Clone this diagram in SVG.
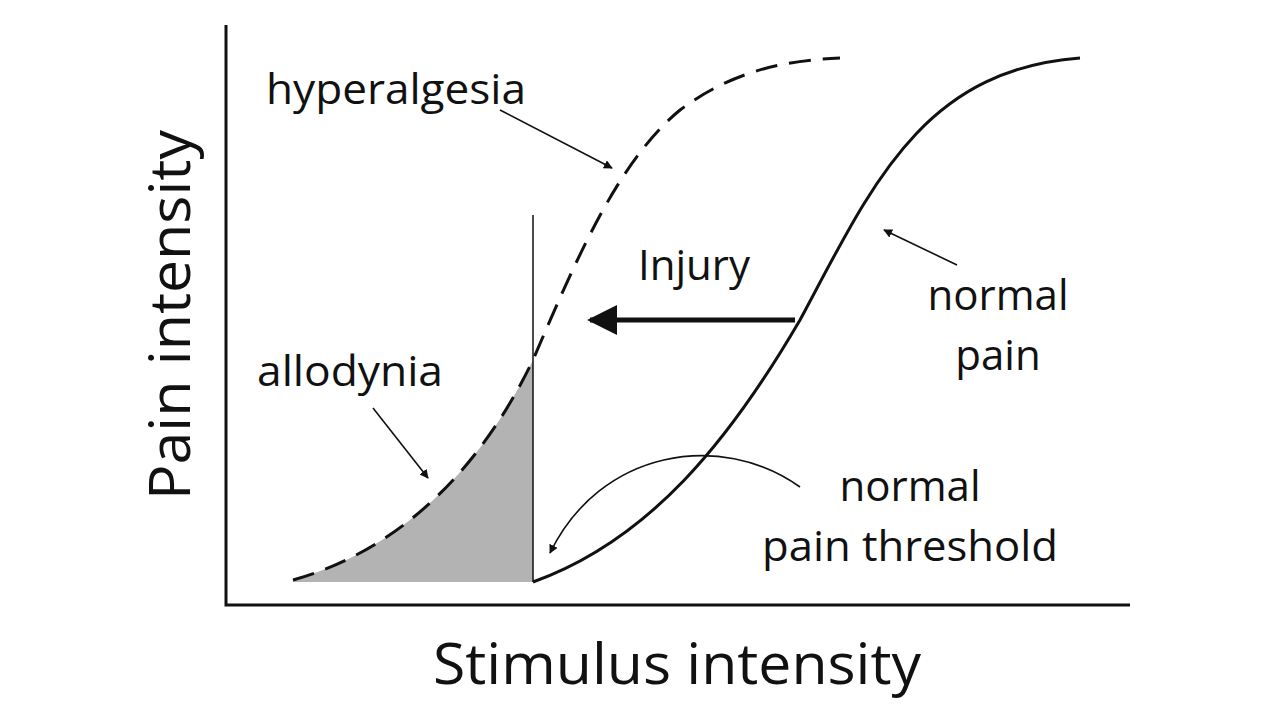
<svg xmlns="http://www.w3.org/2000/svg" width="1280" height="720" viewBox="0 0 1280 720">
<style>
text{font-family:"Open Sans","Liberation Sans",sans-serif;fill:#111}
.l{font-size:42px}
.big{font-size:57px}
.thin{fill:none;stroke:#111;stroke-width:1.6}
</style>
<defs>
<marker id="ah" viewBox="0 0 10 10" refX="9" refY="5" markerWidth="9" markerHeight="9" markerUnits="userSpaceOnUse" orient="auto"><path d="M0,0 L10,5 L0,10 z" fill="#111"/></marker>
<marker id="ahb" viewBox="0 0 10 10" refX="9" refY="5" markerWidth="34" markerHeight="30" markerUnits="userSpaceOnUse" orient="auto"><path d="M0,0 L10,5 L0,10 z" fill="#111"/></marker>
</defs>
<rect width="1280" height="720" fill="#fff"/>
<g id="axes" fill="none" stroke="#111" stroke-width="3">
<path d="M226,25 V605 H1130"/>
</g>
<g id="fill"><path d="M293,580 C400,550 480,470 533,360 L533,582 L293,582 z" fill="#b3b3b3"/></g>
<g id="curves" fill="none" stroke="#111" stroke-width="3">
<path d="M533,582 C650,540 730,440 800,320 C870,190 920,70 1080,58"/>
<path d="M293,580 C400,550 480,470 533,360 C580,250 620,160 680,110 C740,65 800,60 840,58" stroke-dasharray="22,12"/>
<path d="M533,215 V582" stroke-width="1.5"/>
</g>
<g id="connectors">
<path d="M795,320 H590" stroke="#111" stroke-width="5" marker-end="url(#ahb)"/>
<path class="thin" d="M500,110 L612,168" marker-end="url(#ah)"/>
<path class="thin" d="M957,265 L884,230" marker-end="url(#ah)"/>
<path class="thin" d="M373,408 L428,478" marker-end="url(#ah)"/>
<path class="thin" d="M800,487 C720,430 600,450 550,553" marker-end="url(#ah)"/>
</g>
<g id="labels">
<text class="l" x="266" y="104" textLength="260" lengthAdjust="spacingAndGlyphs">hyperalgesia</text>
<text class="l" x="638" y="280">Injury</text>
<text class="l" x="998" y="310" text-anchor="middle">normal</text>
<text class="l" x="998" y="370" text-anchor="middle">pain</text>
<text class="l" x="257" y="386" textLength="186" lengthAdjust="spacingAndGlyphs">allodynia</text>
<text class="l" x="910" y="501" text-anchor="middle">normal</text>
<text class="l" x="910" y="561" text-anchor="middle" textLength="296" lengthAdjust="spacingAndGlyphs">pain threshold</text>
<text class="big" x="433" y="684" textLength="488" lengthAdjust="spacingAndGlyphs">Stimulus intensity</text>
<text class="big" transform="translate(190,500) rotate(-90)" textLength="370" lengthAdjust="spacingAndGlyphs">Pain intensity</text>
</g>
</svg>
